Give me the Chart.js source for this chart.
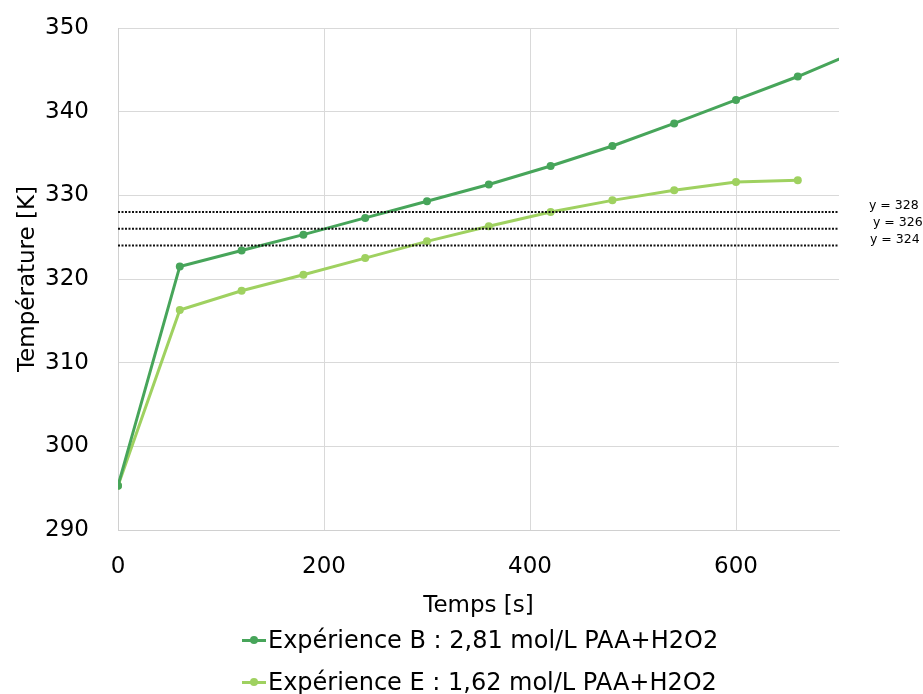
<!DOCTYPE html>
<html>
<head>
<meta charset="utf-8">
<script src="https://cdn.jsdelivr.net/npm/chart.js@4.4.1/dist/chart.umd.min.js"></script>
<style>
body { margin: 0; background: #fff; font-family: "DejaVu Sans", sans-serif; }
#wrap { position: relative; width: 923px; height: 694px; }
#legend { position: absolute; left: 242px; top: 619px; font-size: 24px; color: #000; }
.item { display: flex; align-items: center; height: 42px; white-space: nowrap; }
.mark { position: relative; width: 24px; height: 3px; margin-right: 2px; }
.mark i { position: absolute; left: 8px; top: -2.5px; width: 8px; height: 8px; border-radius: 50%; }
</style>
</head>
<body>
<div id="wrap">
  <canvas id="graphe" width="923" height="694"></canvas>
  <div id="legend"></div>
</div>
<script>
// temps (s) et températures (K)
const temps = [0, 60, 120, 180, 240, 300, 360, 420, 480, 540, 600, 660];
const tempsB = [0, 60, 120, 180, 240, 300, 360, 420, 480, 540, 600, 660, 720];
const tempB = [295.3, 321.5, 323.4, 325.3, 327.3, 329.3, 331.3, 333.5, 335.9, 338.6, 341.4, 344.2, 347.3];
const tempE = [295.3, 316.3, 318.6, 320.5, 322.5, 324.5, 326.3, 328.0, 329.4, 330.6, 331.6, 331.8];
const labelB = "Expérience B : 2,81 mol/L PAA+H2O2";
const labelE = "Expérience E : 1,62 mol/L PAA+H2O2";
// seuils horizontaux (lignes pointillées)
const seuils = [328, 326, 324];
const seuilDx = [30, 34, 31];

const vertB = "#47a55a";
const vertE = "#9fd160";

Chart.defaults.font.family = '"DejaVu Sans", sans-serif';
Chart.defaults.color = "#000";

function points(xs, ys) {
    return xs.map((x, i) => ({ x: x, y: ys[i] }));
}

const seuilDatasets = seuils.map(v => ({
    label: "y = " + v,
    data: [{ x: 0, y: v }, { x: 700, y: v }],
    borderColor: "#111",
    borderWidth: 2,
    borderDash: [2, 1.5],
    pointRadius: 0,
    isSeuil: true
}));

// étiquettes "y = ..." à droite du graphe
const seuilLabels = {
    id: "seuilLabels",
    afterDraw(chart) {
        const { ctx, chartArea, scales } = chart;
        ctx.save();
        ctx.font = '12.5px "DejaVu Sans"';
        ctx.fillStyle = "#000";
        ctx.textBaseline = "middle";
        seuils.forEach((v, i) => {
            ctx.fillText("y = " + v, chartArea.right + seuilDx[i], scales.y.getPixelForValue(v) - 6);
        });
        ctx.restore();
    }
};

const chart = new Chart(document.getElementById("graphe"), {
    type: "line",
    data: {
        datasets: [
            ...seuilDatasets,
            { label: labelB, data: points(tempsB, tempB), borderColor: vertB, backgroundColor: vertB,
              borderWidth: 3, pointRadius: 4, pointBorderWidth: 0 },
            { label: labelE, data: points(temps, tempE), borderColor: vertE, backgroundColor: vertE,
              borderWidth: 3, pointRadius: 4, pointBorderWidth: 0 }
        ]
    },
    options: {
        responsive: false,
        animation: false,
        layout: { padding: { top: 28, right: 84, bottom: 74, left: 0 } },
        plugins: { legend: { display: false }, tooltip: { enabled: false } },
        scales: {
            x: {
                type: "linear", min: 0, max: 700,
                ticks: { stepSize: 200, includeBounds: false, padding: 23, font: { size: 23 } },
                grid: { color: "#d9d9d9", drawTicks: false },
                border: { color: "#d0d0d0" },
                title: { display: true, text: "Temps [s]", font: { size: 23 }, padding: { top: 0, bottom: 0 } },
                afterFit(scale) { scale.height = 90; scale.paddingLeft = 0; scale.paddingRight = 0; }
            },
            y: {
                min: 290, max: 350,
                ticks: { stepSize: 10, padding: 29, font: { size: 23 } },
                grid: { color: "#d9d9d9", drawTicks: false },
                border: { color: "#d0d0d0" },
                title: { display: true, text: "Température [K]", font: { size: 23 }, padding: { top: 14, bottom: 0 } },
                afterFit(scale) { scale.width = 118; scale.paddingTop = 0; scale.paddingBottom = 0; }
            }
        }
    },
    plugins: [seuilLabels]
});

// légende sous le graphe
const legendDiv = document.getElementById("legend");
chart.data.datasets.filter(d => !d.isSeuil).forEach(d => {
    legendDiv.innerHTML += `<div class="item"><span class="mark" style="background:${d.borderColor}"><i style="background:${d.borderColor}"></i></span>${d.label}</div>`;
});
</script>
</body>
</html>
